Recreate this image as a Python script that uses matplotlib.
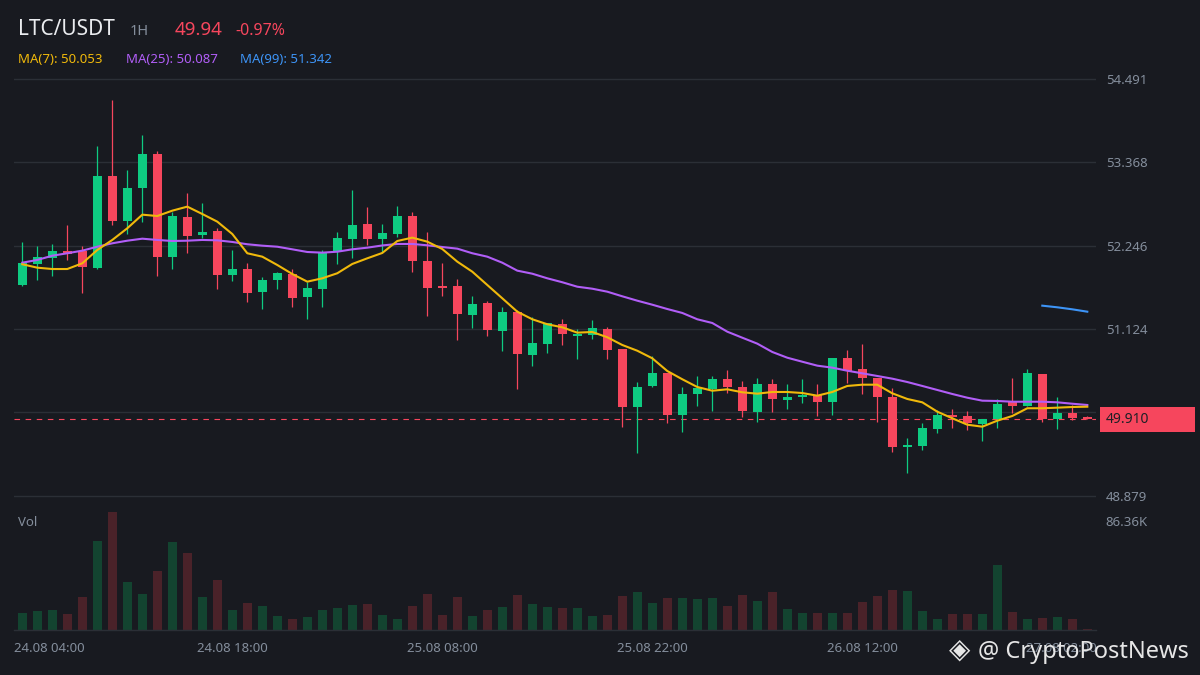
import matplotlib
matplotlib.use("Agg")
import matplotlib.pyplot as plt
from matplotlib.patches import Rectangle
from matplotlib.transforms import blended_transform_factory, ScaledTranslation

# hourly candles, 24.08 04:00 -> 27.08 03:00
opens = [51.717, 52.004, 52.076, 52.175, 52.175, 51.950, 53.183, 52.582, 53.026, 53.479,
         52.098, 52.632, 52.390, 52.444, 51.856, 51.932, 51.627, 51.788, 51.865, 51.560,
         51.667, 52.165, 52.340, 52.538, 52.340, 52.407, 52.645, 52.040, 51.704, 51.704,
         51.318, 51.475, 51.102, 51.354, 50.780, 50.928, 51.193, 51.035, 51.049, 51.125,
         50.856, 50.080, 50.359, 50.533, 49.973, 50.255, 50.318, 50.453, 50.345, 50.013,
         50.385, 50.174, 50.211, 50.238, 50.143, 50.735, 50.587, 50.466, 50.211, 49.538,
         49.551, 49.780, 49.968, 49.955, 49.847, 49.911, 50.157, 50.090, 50.520, 49.911,
         49.995, 49.942]
highs = [52.292, 52.242, 52.269, 52.524, 52.242, 53.587, 54.206, 53.264, 53.735, 53.520,
         52.703, 52.955, 52.820, 52.484, 52.188, 52.013, 51.825, 51.892, 51.932, 51.762,
         52.188, 52.430, 52.995, 52.766, 52.538, 52.780, 52.699, 52.430, 52.009, 51.798,
         51.569, 51.502, 51.421, 51.381, 51.287, 51.206, 51.260, 51.125, 51.246, 51.152,
         50.856, 50.412, 50.762, 50.533, 50.345, 50.493, 50.493, 50.574, 50.426, 50.466,
         50.453, 50.385, 50.453, 50.385, 50.735, 50.843, 50.924, 50.466, 50.328, 49.659,
         49.861, 50.036, 50.049, 50.022, 49.911, 50.184, 50.466, 50.587, 50.520, 50.211,
         50.103, 49.955]
lows = [51.704, 51.784, 51.842, 52.054, 51.614, 51.928, 52.524, 52.403, 52.569, 51.842,
        51.932, 52.152, 52.345, 51.667, 51.775, 51.493, 51.398, 51.667, 51.425, 51.264,
        51.425, 52.004, 52.084, 52.259, 52.165, 52.367, 51.896, 51.304, 51.573, 50.981,
        51.143, 51.035, 50.833, 50.322, 50.632, 50.807, 50.914, 50.726, 50.995, 50.726,
        49.811, 49.461, 50.349, 49.865, 49.744, 50.090, 50.022, 50.264, 49.942, 49.874,
        50.013, 50.049, 50.130, 49.955, 49.968, 50.395, 50.251, 49.874, 49.471, 49.188,
        49.498, 49.726, 49.794, 49.767, 49.619, 49.794, 49.991, 50.090, 49.874, 49.780,
        49.901, 49.910]
closes = [52.009, 52.094, 52.175, 52.134, 51.963, 53.183, 52.582, 53.022, 53.479, 52.098,
          52.645, 52.380, 52.430, 51.856, 51.932, 51.614, 51.784, 51.879, 51.546, 51.677,
          52.152, 52.349, 52.524, 52.340, 52.417, 52.645, 52.044, 51.681, 51.681, 51.331,
          51.462, 51.116, 51.354, 50.793, 50.937, 51.206, 51.062, 51.062, 51.139, 50.847,
          50.080, 50.345, 50.533, 49.973, 50.251, 50.328, 50.453, 50.341, 50.022, 50.385,
          50.184, 50.211, 50.238, 50.143, 50.735, 50.556, 50.466, 50.211, 49.538, 49.565,
          49.794, 49.968, 49.942, 49.861, 49.911, 50.116, 50.090, 50.533, 49.911, 49.995,
          49.928, 49.910]
# volume in thousands
volumes = [13.5, 15.0, 15.8, 12.7, 26.1, 70.5, 93.5, 38.0, 28.5, 46.7,
           69.7, 61.0, 26.1, 39.6, 15.8, 21.4, 19.0, 11.1, 8.7, 10.3,
           15.8, 17.4, 19.8, 20.6, 11.9, 8.7, 19.0, 28.5, 11.9, 26.1,
           11.1, 15.8, 18.2, 27.7, 20.6, 18.2, 17.4, 17.4, 11.1, 11.9,
           26.9, 30.1, 21.4, 25.3, 25.3, 24.6, 25.3, 19.0, 27.7, 23.0,
           30.1, 16.6, 13.5, 13.5, 13.5, 13.5, 22.2, 26.9, 31.7, 30.9,
           15.0, 8.7, 12.7, 12.7, 12.7, 51.5, 14.3, 8.7, 9.5, 10.3,
           8.7, 0.8]
ma7 = [51.996, 51.950, 51.932, 51.932, 52.009, 52.188, 52.323, 52.480, 52.663, 52.645,
       52.717, 52.771, 52.672, 52.569, 52.403, 52.144, 52.098, 51.986, 51.865, 51.762,
       51.807, 51.875, 52.000, 52.076, 52.148, 52.309, 52.354, 52.300, 52.201, 52.031,
       51.896, 51.717, 51.538, 51.358, 51.256, 51.189, 51.148, 51.076, 51.085, 51.014,
       50.910, 50.833, 50.731, 50.560, 50.449, 50.345, 50.295, 50.314, 50.274, 50.255,
       50.278, 50.278, 50.264, 50.228, 50.278, 50.359, 50.376, 50.376, 50.260, 50.184,
       50.139, 50.013, 49.924, 49.838, 49.811, 49.892, 49.955, 50.059, 50.059, 50.067,
       50.076, 50.080]
ma25 = [52.017, 52.054, 52.111, 52.144, 52.179, 52.232, 52.278, 52.313, 52.340, 52.323,
        52.309, 52.313, 52.323, 52.318, 52.296, 52.265, 52.246, 52.232, 52.197, 52.161,
        52.152, 52.165, 52.197, 52.219, 52.249, 52.269, 52.269, 52.251, 52.228, 52.206,
        52.144, 52.098, 52.017, 51.910, 51.869, 51.807, 51.754, 51.694, 51.667, 51.627,
        51.565, 51.506, 51.452, 51.394, 51.341, 51.256, 51.206, 51.089, 51.008, 50.928,
        50.816, 50.739, 50.685, 50.632, 50.605, 50.564, 50.529, 50.493, 50.457, 50.412,
        50.359, 50.305, 50.251, 50.201, 50.161, 50.157, 50.147, 50.147, 50.147, 50.139,
        50.120, 50.103]
ma99_start = 68
ma99 = [51.439, 51.417, 51.390, 51.358]

price_ticks = [54.491, 53.368, 52.246, 51.124, 50.002, 48.879]
price_labels = ["54.491", "53.368", "52.246", "51.124", "", "48.879"]
time_ticks = [0, 14, 28, 42, 56, 70]
time_labels = ["24.08 04:00", "24.08 18:00", "25.08 08:00", "25.08 22:00", "26.08 12:00", "27.08 02:00"]
last_price = 49.910

BG = "#181A20"
GRID = "#2B2F36"
TXT = "#848E9C"
UP = "#0ECB81"
DOWN = "#F6465D"
UP_VOL = "#134430"
DOWN_VOL = "#4A2229"
C7, C25, C99 = "#F0B90B", "#B15EF7", "#3D94F6"

plt.rcParams["font.family"] = ["Noto Sans", "DejaVu Sans"]

W, H = 1200, 675
fig = plt.figure(figsize=(12, 6.75), dpi=100, facecolor=BG)


def px_rect(x0, y0, x1, y1):
    return [x0 / W, 1 - y1 / H, (x1 - x0) / W, (y1 - y0) / H]


ax = fig.add_axes(px_rect(14, 70, 1096, 500))
axv = fig.add_axes(px_rect(14, 500, 1096, 630), sharex=ax)

idx = list(range(len(opens)))
up = [c >= o for o, c in zip(opens, closes)]
cols = [UP if u else DOWN for u in up]
vcols = [UP_VOL if u else DOWN_VOL for u in up]

# price pane
ax.set_facecolor(BG)
ax.set_xlim(-0.553, 71.58)
ax.set_ylim(48.825, 54.609)
ax.set_yticks(price_ticks)
ax.set_yticklabels(price_labels)
ax.yaxis.tick_right()
ax.tick_params(axis="y", length=0, pad=7, labelsize=9.5, labelcolor=TXT)
ax.tick_params(axis="x", length=0, labelbottom=False)
ax.grid(axis="y", color=GRID, lw=1)
for s in ax.spines.values():
    s.set_visible(False)

ax.axhline(last_price, color=DOWN, lw=0.8, dashes=(5, 5), zorder=1)

ax.vlines(idx, lows, highs, colors=cols, lw=0.9, zorder=2)
bottoms = [min(o, c) for o, c in zip(opens, closes)]
heights = [max(abs(c - o), 0.018) for o, c in zip(opens, closes)]
ax.bar(idx, heights, bottom=bottoms, width=0.6, color=cols, lw=0, zorder=3)

ax.plot(idx, ma25, color=C25, lw=1.5, zorder=4)
ax.plot(idx, ma7, color=C7, lw=1.5, zorder=5)
ax.plot(list(range(ma99_start, ma99_start + len(ma99))), ma99, color=C99, lw=1.5, zorder=5)

# last price tag
tr = blended_transform_factory(ax.transAxes, ax.transData)
tag = Rectangle((1.0037, last_price - 0.17), 0.0878, 0.34, transform=tr,
                facecolor=DOWN, edgecolor="none", clip_on=False, zorder=10)
ax.add_patch(tag)
ax.text(1.0092, last_price, f"{last_price:.3f}", transform=tr, color="#1E2026",
        fontsize=10, va="center", ha="left", zorder=11, clip_on=False)

# volume pane
axv.set_facecolor(BG)
axv.bar(idx, volumes, width=0.6, color=vcols, lw=0)
axv.set_ylim(0, 103)
axv.set_yticks([86.36])
axv.set_yticklabels(["86.36K"])
axv.yaxis.tick_right()
axv.tick_params(axis="y", length=0, pad=7, labelsize=9.5, labelcolor=TXT)
axv.set_xticks(time_ticks)
axv.set_xticklabels(time_labels)
axv.tick_params(axis="x", length=0, pad=9, labelsize=9.5, labelcolor=TXT)
for name, s in axv.spines.items():
    s.set_visible(name == "bottom")
axv.spines["bottom"].set_color(GRID)
axv.spines["bottom"].set_linewidth(1)

labs = axv.get_xticklabels()
labs[0].set_ha("left")
labs[0].set_transform(labs[0].get_transform() + ScaledTranslation(-0.08, 0, fig.dpi_scale_trans))
labs[-1].set_transform(labs[-1].get_transform() + ScaledTranslation(-0.11, 0, fig.dpi_scale_trans))

fig.text(18 / W, 1 - 522 / H, "Vol", color=TXT, fontsize=9.5, va="center")

# header
fig.text(18 / W, 1 - 35 / H, "LTC/USDT", color="#EAECEF", fontsize=15, va="baseline")
fig.text(130 / W, 1 - 35 / H, "1H", color=TXT, fontsize=10.5, va="baseline")
fig.text(175 / W, 1 - 35 / H, "49.94", color=DOWN, fontsize=13.5, va="baseline")
fig.text(235 / W, 1 - 35 / H, "-0.97%", color=DOWN, fontsize=11.5, va="baseline")
fig.text(18 / W, 1 - 63 / H, "MA(7): 50.053", color=C7, fontsize=9.5, va="baseline")
fig.text(126 / W, 1 - 63 / H, "MA(25): 50.087", color=C25, fontsize=9.5, va="baseline")
fig.text(240 / W, 1 - 63 / H, "MA(99): 51.342", color=C99, fontsize=9.5, va="baseline")

# watermark
fig.text(960 / W, 1 - 650 / H, "\u25c8", color="#E6E6E6", fontsize=20, ha="center", va="center",
         family=["DejaVu Sans"])
fig.text(978 / W, 1 - 658 / H, "@ CryptoPostNews", color="#E6E6E6", fontsize=17, va="baseline")

fig.savefig("out.png", dpi=100, facecolor=BG)
